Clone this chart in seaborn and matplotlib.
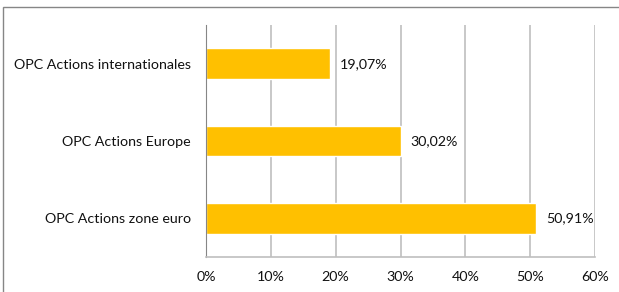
import pandas as pd
import matplotlib.pyplot as plt
import seaborn as sns
from matplotlib.patches import Rectangle
from matplotlib.ticker import FixedLocator

# données
categories = ['OPC Actions internationales', 'OPC Actions Europe', 'OPC Actions zone euro']
values = [19.07, 30.02, 50.91]
labels = ['19,07%', '30,02%', '50,91%']
xticks = [0, 10, 20, 30, 40, 50, 60]

sns.set_style('white')
plt.rcParams['font.family'] = ['Lato', 'DejaVu Sans']

fig = plt.figure(figsize=(6.19, 2.92), dpi=100)
ax = fig.add_axes([206 / 619, 1 - 257 / 292, (595 - 206) / 619, (257 - 25) / 292])

df = pd.DataFrame({'cat': categories, 'val': values})
sns.barplot(data=df, x='val', y='cat', orient='h', color='#FFC000',
            saturation=1, width=0.4, ax=ax)

ax.set_xlim(0, 60)
ax.set_ylim(2.5, -0.5)
ax.set_xticks(xticks)
ax.set_xticklabels([f'{t}%' for t in xticks], fontsize=10.3, color='#111111')
ax.set_xlabel('')
ax.set_ylabel('')
ax.tick_params(axis='y', labelsize=10.3, labelcolor='#111111', length=0, pad=11)

# graduations entre catégories
ax.yaxis.set_minor_locator(FixedLocator([-0.5, 0.5, 1.5, 2.5]))
ax.tick_params(axis='y', which='minor', length=4, color='#868686', width=0.8)
ax.tick_params(axis='x', length=4, color='#BFBFBF', width=1.2, pad=6)

ax.grid(axis='x', color='#BFBFBF', linewidth=1.2)
ax.set_axisbelow(True)
for s in ['top', 'right']:
    ax.spines[s].set_visible(False)
ax.spines['left'].set_color('#868686')
ax.spines['left'].set_linewidth(0.8)
ax.spines['bottom'].set_color('#BFBFBF')
ax.spines['bottom'].set_linewidth(1.2)

for i, (v, lab) in enumerate(zip(values, labels)):
    ax.text(v + 1.5, i, lab, va='center', ha='left', fontsize=10.3, color='#111111')

# cadre du graphique
fig.patches.append(Rectangle((2.5 / 619, -0.1), 1.2, 1.1 - 7.5 / 292,
                             transform=fig.transFigure, fill=False,
                             edgecolor='#868686', linewidth=1.0))

fig.savefig('out.png', dpi=100)
